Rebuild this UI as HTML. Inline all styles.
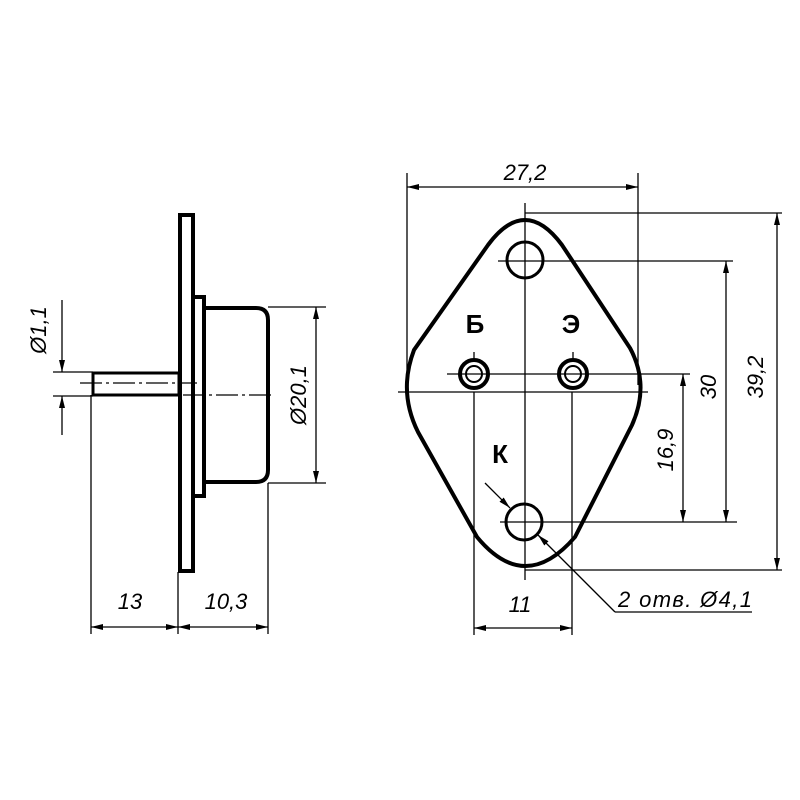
<!DOCTYPE html>
<html><head><meta charset="utf-8"><style>
html,body{margin:0;padding:0;background:#fff;}
svg{display:block}
text{font-family:"Liberation Sans",sans-serif;font-style:italic;fill:#000}
.b{font-style:normal;font-weight:bold}
</style></head><body>
<svg width="800" height="800" viewBox="0 0 800 800" xmlns="http://www.w3.org/2000/svg">
<defs>
<marker id="a" viewBox="0 0 12 6" refX="12" refY="3" markerWidth="12" markerHeight="6" orient="auto-start-reverse" markerUnits="userSpaceOnUse">
<path d="M0,0 L12,3 L0,6 z" fill="#000"/></marker>
</defs>
<g stroke="#000" fill="none">
<rect x="180" y="215" width="13" height="356" stroke-width="4"/>
<rect x="193" y="297" width="11" height="199" stroke-width="4"/>
<path d="M204,308 L256,308 Q268,308 268,320 L268,470 Q268,482 256,482 L204,482" stroke-width="4"/>
<rect x="93" y="373" width="86" height="22" stroke-width="3"/>
<g stroke-width="1.3">
<path d="M80,383 H197" stroke-dasharray="22,4,3,4"/>
<path d="M183,395 H275" stroke-dasharray="22,4,3,4"/>
<line x1="53" y1="372" x2="93" y2="372"/>
<line x1="53" y1="396" x2="93" y2="396"/>
<line x1="62" y1="300" x2="62" y2="372" marker-end="url(#a)"/>
<line x1="62" y1="435" x2="62" y2="396" marker-end="url(#a)"/>
<line x1="268" y1="307" x2="326" y2="307"/>
<line x1="268" y1="483" x2="326" y2="483"/>
<line x1="316" y1="307" x2="316" y2="483" marker-start="url(#a)" marker-end="url(#a)"/>
<line x1="91" y1="395" x2="91" y2="634"/>
<line x1="178" y1="572" x2="178" y2="634"/>
<line x1="268" y1="483" x2="268" y2="634"/>
<line x1="91" y1="627" x2="178" y2="627" marker-start="url(#a)" marker-end="url(#a)"/>
<line x1="178" y1="627" x2="268" y2="627" marker-start="url(#a)" marker-end="url(#a)"/>
</g>
<path d="M488,245 Q525,195 562,245 L630,348 Q650,385 632,425 L575,537 Q525,595 477,537 L418,432 Q398,392 414,350 Z" stroke-width="4"/>
<circle cx="525" cy="260" r="18" stroke-width="3"/>
<circle cx="524" cy="522" r="18" stroke-width="3"/>
<circle cx="474" cy="374" r="14" stroke-width="4"/>
<circle cx="474" cy="374" r="8" stroke-width="2"/>
<circle cx="573" cy="374" r="14" stroke-width="4"/>
<circle cx="573" cy="374" r="8" stroke-width="2"/>
<g stroke-width="1.3">
<line x1="525" y1="203" x2="525" y2="580"/>
<line x1="398" y1="392" x2="648" y2="392"/>
<line x1="447" y1="374" x2="690" y2="374"/>
<line x1="474" y1="352" x2="474" y2="360"/>
<line x1="573" y1="352" x2="573" y2="360"/>
<line x1="498" y1="261" x2="733" y2="261"/>
<line x1="500" y1="522" x2="737" y2="522"/>
<line x1="525" y1="213" x2="782" y2="213"/>
<line x1="525" y1="570" x2="782" y2="570"/>
<line x1="407" y1="173" x2="407" y2="392"/>
<line x1="638" y1="173" x2="638" y2="385"/>
<line x1="407" y1="187" x2="638" y2="187" marker-start="url(#a)" marker-end="url(#a)"/>
<line x1="777" y1="213" x2="777" y2="570" marker-start="url(#a)" marker-end="url(#a)"/>
<line x1="726" y1="261" x2="726" y2="522" marker-start="url(#a)" marker-end="url(#a)"/>
<line x1="683" y1="374" x2="683" y2="522" marker-start="url(#a)" marker-end="url(#a)"/>
<line x1="474" y1="392" x2="474" y2="635"/>
<line x1="572" y1="392" x2="572" y2="635"/>
<line x1="474" y1="628" x2="572" y2="628" marker-start="url(#a)" marker-end="url(#a)"/>
<line x1="485" y1="483" x2="510" y2="508" marker-end="url(#a)"/>
<line x1="615" y1="612" x2="538" y2="535" marker-end="url(#a)"/>
<line x1="615" y1="612" x2="752" y2="612"/>
</g>
</g>
<g font-size="22">
<text x="40" y="330" text-anchor="middle" dominant-baseline="middle" transform="rotate(-90 40 330)">Ø1,1</text>
<text x="300" y="395" text-anchor="middle" dominant-baseline="middle" transform="rotate(-90 300 395)">Ø20,1</text>
<text x="130" y="609" text-anchor="middle">13</text>
<text x="226" y="609" text-anchor="middle">10,3</text>
<text x="525" y="180" text-anchor="middle">27,2</text>
<text x="757" y="377" text-anchor="middle" dominant-baseline="middle" transform="rotate(-90 757 377)">39,2</text>
<text x="710" y="387" text-anchor="middle" dominant-baseline="middle" transform="rotate(-90 710 387)">30</text>
<text x="667" y="450" text-anchor="middle" dominant-baseline="middle" transform="rotate(-90 667 450)">16,9</text>
<text x="520" y="612" text-anchor="middle">11</text>
<text x="618" y="607" textLength="134">2 отв. Ø4,1</text>
</g>
<g font-size="26">
<text class="b" x="475" y="333" text-anchor="middle">Б</text>
<text class="b" x="571" y="333" text-anchor="middle">Э</text>
<text class="b" x="500" y="463" text-anchor="middle">К</text>
</g>
</svg>
</body></html>
